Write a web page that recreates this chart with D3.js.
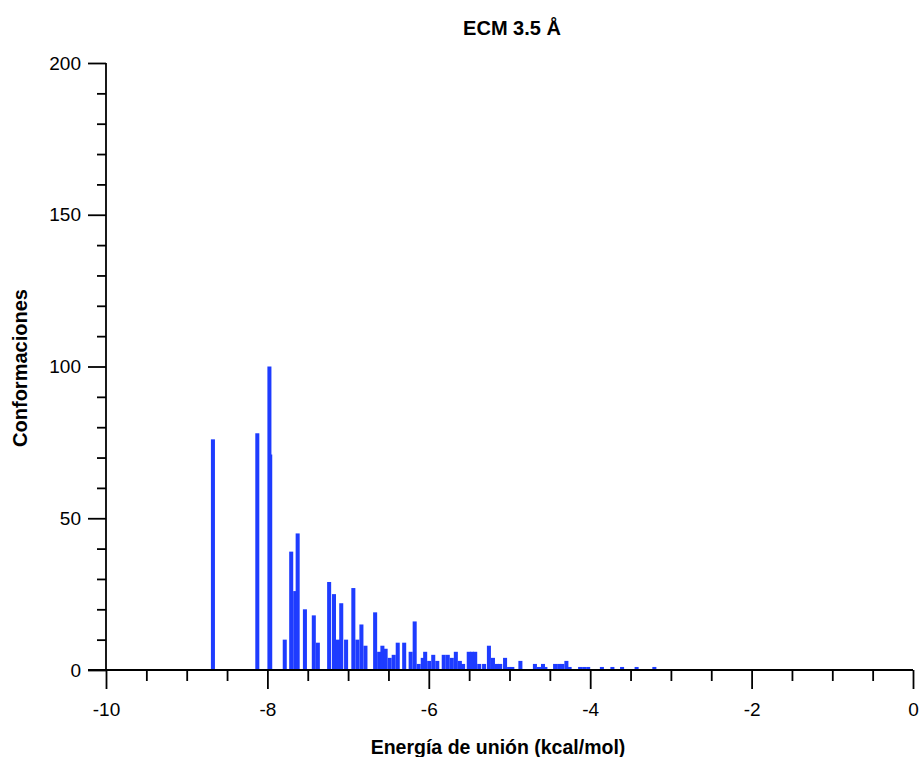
<!DOCTYPE html>
<html>
<head>
<meta charset="utf-8">
<script src="https://cdn.jsdelivr.net/npm/d3@7"></script>
<style>
  html, body { margin: 0; padding: 0; background: #fff; }
  svg text { font-family: "Liberation Sans", Arial, sans-serif; fill: #000; }
</style>
</head>
<body>
<svg id="chart" width="920" height="757"></svg>
<script>
// Binding energy (kcal/mol, left edge of each bar) and number of conformations
const energies = [
  -8.70, -8.15, -7.99, -8.00,
  -7.81, -7.73, -7.68, -7.65, -7.56, -7.45, -7.40,
  -7.26, -7.20, -7.15, -7.11, -7.05, -6.96, -6.91, -6.86, -6.81,
  -6.69, -6.64, -6.60, -6.56, -6.51, -6.46, -6.41, -6.33, -6.25, -6.20,
  -6.15, -6.10, -6.07, -6.02, -5.97, -5.92, -5.84, -5.79, -5.74, -5.69,
  -5.64, -5.60, -5.53, -5.49, -5.45, -5.40, -5.34, -5.28, -5.23, -5.18,
  -5.14, -5.08, -5.03, -4.99, -4.89, -4.71, -4.66, -4.61, -4.58, -4.46,
  -4.41, -4.37, -4.32, -4.28, -4.15, -4.10, -4.05, -3.88, -3.75, -3.63,
  -3.45, -3.23
];
const counts = [
  76, 78, 71, 100,
  10, 39, 26, 45, 20, 18, 9,
  29, 25, 10, 22, 10, 27, 10, 15, 8,
  19, 6, 8, 7, 4, 5, 9, 9, 6, 16,
  2, 4, 6, 3, 5, 3, 5, 5, 4, 6,
  3, 2, 6, 6, 6, 2, 2, 8, 4, 2,
  2, 4, 1, 1, 3, 2, 1, 2, 1, 2,
  2, 2, 3, 1, 1, 1, 1, 1, 1, 1,
  1, 1
];
const binWidth = 0.05;

const xMajorTicks = [-10, -8, -6, -4, -2, 0];
const yMajorTicks = [0, 50, 100, 150, 200];

const titleText = "ECM 3.5 Å";
const xTitle = "Energía de unión (kcal/mol)";
const yTitle = "Conformaciones";

const barColor = "#1e3cff";

const svg = d3.select("#chart");
const plot = { left: 106, right: 913, top: 63, bottom: 670 };

const x = d3.scaleLinear().domain([-10, 0]).range([plot.left, plot.right]);
const y = d3.scaleLinear().domain([0, 200]).range([plot.bottom, plot.top]);

const data = energies.map((e, i) => ({ e, c: counts[i] }));

// Bars
svg.append("g")
  .selectAll("rect")
  .data(data)
  .join("rect")
  .attr("x", d => x(d.e))
  .attr("width", d => x(d.e + binWidth) - x(d.e))
  .attr("y", d => y(d.c))
  .attr("height", d => y(0) - y(d.c))
  .attr("fill", barColor);

// X axis: minor ticks every 0.5, major every 2
const xMinor = d3.range(-10, 0.001, 0.5).filter(v => Math.abs(v % 2) > 1e-9);
svg.append("g")
  .attr("transform", `translate(0,${plot.bottom})`)
  .call(d3.axisBottom(x).tickValues(xMinor).tickSize(11).tickFormat(""))
  .call(g => g.select(".domain").remove())
  .call(g => g.selectAll("line").attr("stroke", "#000").attr("stroke-width", 1.8));

const xAxisG = svg.append("g")
  .attr("transform", `translate(0,${plot.bottom})`)
  .call(d3.axisBottom(x).tickValues(xMajorTicks).tickSize(19).tickPadding(14)
    .tickFormat(d3.format("d")));
xAxisG.select(".domain").remove();
xAxisG.selectAll("line").attr("stroke", "#000").attr("stroke-width", 1.8);
xAxisG.selectAll("text").attr("font-size", 19).attr("fill", "#000")
  .text(d => d < 0 ? "-" + Math.abs(d) : d);

// Y axis: minor ticks every 10, major every 50
const yMinor = d3.range(0, 200.001, 10).filter(v => v % 50 !== 0);
svg.append("g")
  .attr("transform", `translate(${plot.left},0)`)
  .call(d3.axisLeft(y).tickValues(yMinor).tickSize(9).tickFormat(""))
  .call(g => g.select(".domain").remove())
  .call(g => g.selectAll("line").attr("stroke", "#000").attr("stroke-width", 1.8));

const yAxisG = svg.append("g")
  .attr("transform", `translate(${plot.left},0)`)
  .call(d3.axisLeft(y).tickValues(yMajorTicks).tickSize(18).tickPadding(7)
    .tickFormat(d3.format("d")));
yAxisG.select(".domain").remove();
yAxisG.selectAll("line").attr("stroke", "#000").attr("stroke-width", 1.8);
yAxisG.selectAll("text").attr("font-size", 19).attr("fill", "#000");

// Axis lines
svg.append("line")
  .attr("x1", plot.left).attr("x2", plot.left)
  .attr("y1", y(200)).attr("y2", y(0))
  .attr("stroke", "#000").attr("stroke-width", 1.8);
svg.append("line")
  .attr("x1", plot.left - 18).attr("x2", plot.right)
  .attr("y1", y(0)).attr("y2", y(0))
  .attr("stroke", "#000").attr("stroke-width", 1.8);

// Titles
svg.append("text")
  .attr("x", 512).attr("y", 35)
  .attr("text-anchor", "middle")
  .attr("font-size", 20).attr("font-weight", "bold")
  .text(titleText);

svg.append("text")
  .attr("x", 498).attr("y", 754)
  .attr("text-anchor", "middle")
  .attr("font-size", 19.5).attr("font-weight", "bold")
  .text(xTitle);

svg.append("text")
  .attr("transform", "translate(27,368) rotate(-90)")
  .attr("text-anchor", "middle")
  .attr("font-size", 20).attr("font-weight", "bold")
  .text(yTitle);
</script>
</body>
</html>
